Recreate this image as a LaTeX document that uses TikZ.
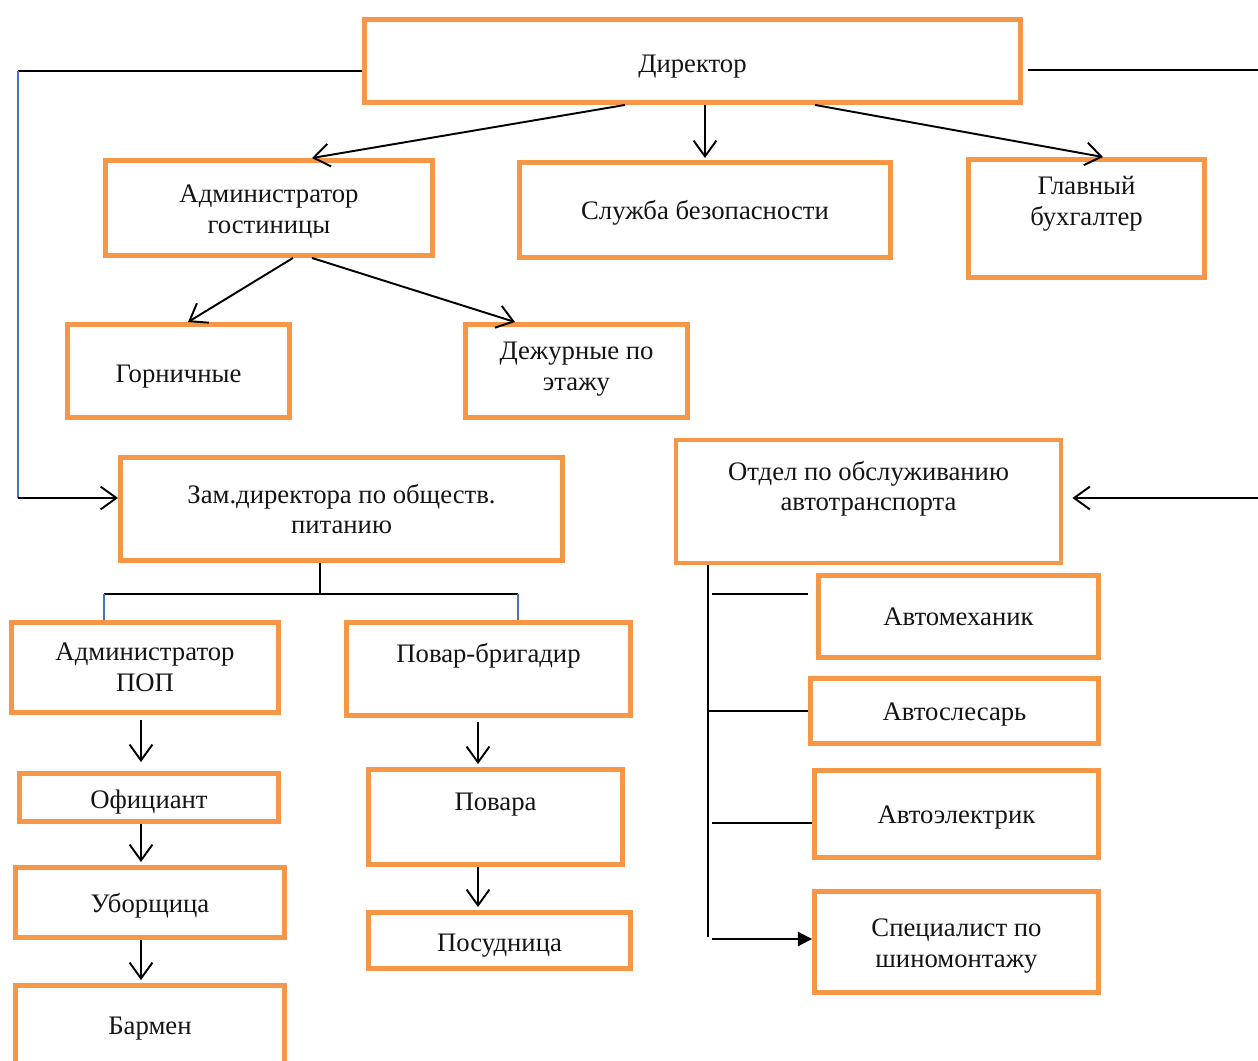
\documentclass[tikz,border=0pt]{standalone}
\usepackage{fontspec}
\setmainfont{Liberation Serif}
\usetikzlibrary{arrows.meta,calc}
\definecolor{frame}{RGB}{247,150,70}
\definecolor{vblue}{RGB}{68,114,196}
\definecolor{ink}{RGB}{20,20,20}
\tikzset{
  box/.style={draw=frame, line width=2.8pt, fill=white, align=center, text=ink,
              inner sep=2pt, font=\fontsize{15.2}{17.5}\selectfont},
  sz/.style 2 args={minimum width=#1*0.02cm, minimum height=#2*0.02cm},
  lift/.style={text depth=#1},
  drop/.style={text height=#1},
  arr/.style={-{Straight Barb[length=9pt,width=13pt,line width=1.1pt]}, line width=1.1pt},
  tarr/.style={-{Triangle[length=8pt,width=8pt]}, line width=1.1pt},
  ln/.style={line width=1.1pt},
  bln/.style={line width=0.8pt, draw=vblue},
}

\begin{document}
\begin{tikzpicture}[x=0.02cm, y=-0.02cm]
  \useasboundingbox (0,0) rectangle (1258,1061);

  % ---- top level ----------------------------------------------------
  \node[box, sz={656}{83}, drop=15.8pt] (dir) at (692.5,61) {Директор};
  \node[box, sz={327}{95}, drop=32.1pt] (admg) at (269,208) {Администратор\\гостиницы};
  \node[box, sz={371}{95}, drop=14.6pt] (sb) at (705,210) {Служба безопасности};
  \node[box, sz={236}{118}, lift=0.70cm] (buh) at (1086.5,218.5) {Главный\\бухгалтер};
  \node[box, sz={222}{93}, drop=15.8pt] (gorn) at (178.5,371) {Горничные};
  \node[box, sz={222}{93}, lift=0.2cm] (dezh) at (576.5,371) {Дежурные по\\этажу};

  % ---- catering -----------------------------------------------------
  \node[box, sz={442}{103}] (zam) at (341.5,509) {Зам.директора по обществ.\\питанию};
  \node[box, sz={267}{90}] (apop) at (145,667.5) {Администратор\\ПОП};
  \node[box, sz={284}{93}, lift=0.66cm] (povb) at (488.5,669) {Повар-бригадир};
  \node[box, sz={259}{48}, drop=15.8pt] (ofic) at (149,797.5) {Официант};
  \node[box, sz={269}{70}, drop=14.1pt] (ubor) at (150,902.5) {Уборщица};
  \node[box, sz={269}{79}, drop=13.5pt] (barm) at (150,1025) {Бармен};
  \node[box, sz={254}{95}, lift=0.62cm] (povara) at (495.5,817) {Повара};
  \node[box, sz={262}{56}, drop=15.8pt] (posud) at (499.5,940.5) {Посудница};

  % ---- transport ----------------------------------------------------
  \node[box, sz={385}{123}, lift=0.62cm] (otd) at (868.5,501.5) {Отдел по обслуживанию\\автотранспорта};
  \node[box, sz={280}{82}] (amech) at (958.5,616.5) {Автомеханик};
  \node[box, sz={288}{65}, drop=14.6pt] (aslec) at (954.5,711) {Автослесарь};
  \node[box, sz={284}{87}, drop=14.6pt] (aelec) at (956.5,814) {Автоэлектрик};
  \node[box, sz={284}{101}, drop=32.1pt] (shin) at (956.5,942) {Специалист по\\шиномонтажу};

  % side lines from the director
  \coordinate (lt) at (18,71);
  \coordinate (lb) at (18,498);
  \coordinate (rt) at (1258,70);
  \coordinate (rb) at (1258,498);
  \draw[ln] (dir.west |- lt) -- (lt);
  \draw[bln] (lt) -- (lb);
  \draw[arr] (lb) -- (zam.west |- lb);
  \draw[ln] ($(dir.east |- rt)+(5,0)$) -- (rt);
  \draw[arr] (rb) -- ($(otd.east |- rb)+(9,0)$);

  % director to heads
  \draw[arr] ($(dir.south)+(-67.5,0)$) -- ($(admg.north)+(43,0)$);
  \draw[arr] (dir.south -| sb) -- ($(sb.north)+(0,-2)$);
  \draw[arr] ($(dir.south)+(122.5,0)$) -- ($(buh.north)+(16.5,0)$);

  % administrator to staff
  \draw[arr] ($(admg.south)+(24,0)$) -- ($(gorn.north)+(9.5,0)$);
  \draw[arr] ($(admg.south)+(43,0)$) -- ($(dezh.north)+(-61.5,0)$);

  % catering fork
  \coordinate (fork) at (320,594);
  \coordinate (fl) at (104,594);
  \coordinate (fr) at (518,594);
  \draw[ln] (zam.south -| fork) -- (fork);
  \draw[ln] (fl) -- (fr);
  \draw[bln] (fl) -- (fl |- apop.north);
  \draw[bln] (fr) -- (fr |- povb.north);

  \draw[arr] ($(apop.south)+(-4,5)$) -- ($(ofic.north)+(-8,-9)$);
  \draw[arr] ($(ofic.south)+(-8,0)$) -- ($(ubor.north)+(-9,-3)$);
  \draw[arr] ($(ubor.south)+(-9,0)$) -- ($(barm.north)+(-9,-3)$);
  \draw[arr] ($(povb.south)+(-10.5,4)$) -- ($(povara.north)+(-17.5,-3)$);
  \draw[arr] ($(povara.south)+(-17.5,0)$) -- ($(posud.north)+(-21.5,-3)$);

  % transport branch
  \coordinate (vt) at (708,937);
  \coordinate (h1) at (712,594);
  \coordinate (h3) at (712,823);
  \coordinate (h4) at (712,939);
  \draw[ln] (otd.south -| vt) -- (vt);
  \draw[ln] (h1) -- ($(amech.west |- h1)+(-8,0)$);
  \draw[ln] (vt |- aslec) -- (aslec.west);
  \draw[ln] (h3) -- (aelec.west |- h3);
  \draw[tarr] (h4) -- (shin.west |- h4);
\end{tikzpicture}
\end{document}
